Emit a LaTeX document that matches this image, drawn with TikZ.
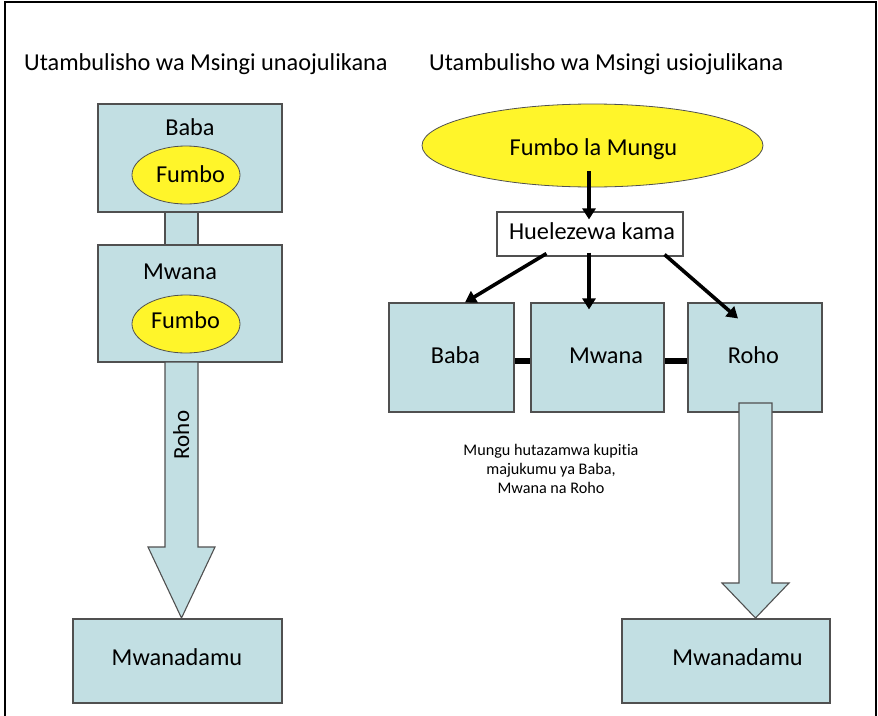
\documentclass[tikz,border=0pt]{standalone}
\usepackage{fontspec}
\setmainfont{Carlito}[Ligatures=NoCommon]
\usetikzlibrary{arrows.meta,shapes.geometric,calc}
\definecolor{boxblue}{HTML}{C2DFE3}
\definecolor{boxline}{HTML}{505050}
\definecolor{fyellow}{HTML}{FFF52A}
\begin{document}
\begin{tikzpicture}[x=1pt,y=-1pt,
  bluebox/.style={rectangle,draw=boxline,fill=boxblue,line width=1.1pt,inner sep=0pt},
  whitebox/.style={rectangle,draw=boxline,fill=white,line width=1.1pt,inner sep=0pt},
  yellowoval/.style={ellipse,draw=boxline,fill=fyellow,line width=0.8pt,inner sep=0pt},
  bigtxt/.style={font=\fontsize{24.3}{29}\selectfont,inner sep=0pt,anchor=base},
  smalltxt/.style={font=\fontsize{16.2}{19.5}\selectfont,inner sep=0pt,anchor=base},
  blockarrow/.style={draw=boxline,fill=boxblue,line width=1.1pt,line join=miter},
  thinarrow/.style={line width=3.6pt,-{Triangle[length=11pt,width=13pt]}},
  barline/.style={line width=6pt}
]
\useasboundingbox (0,0) rectangle (878,715);
\draw[line width=2pt] (5,2) rectangle (876,740);

% titles
\node[bigtxt,anchor=base west] (tleft) at (24,70) {Utambulisho wa Msingi unaojulikana};
\node[bigtxt,anchor=base west] (tright) at (429,70) {Utambulisho wa Msingi usiojulikana};

% ---------------- left column
\node[bluebox,minimum width=33pt,minimum height=33pt] (lneck) at (181.5,228.5) {};
\node[bluebox,minimum width=184pt,minimum height=108pt] (lbaba) at (190,158) {};
\node[bluebox,minimum width=184pt,minimum height=117pt] (lmwana) at (190,303.5) {};
\node[bigtxt] (lbabat) at (190,135) {Baba};
\node[yellowoval,minimum width=108pt,minimum height=58pt] (lf1) at (186,175) {};
\node[bigtxt] (lf1t) at (190.5,182) {Fumbo};
\node[bigtxt] (lmwanat) at (180,279) {Mwana};
\node[yellowoval,minimum width=108pt,minimum height=58pt] (lf2) at (186,324) {};
\node[bigtxt] (lf2t) at (185.5,328) {Fumbo};

\draw[blockarrow] (165,362) -- (198,362) -- (198,547) -- (215,547) -- (181.5,618)
  -- (148,547) -- (165,547) -- cycle;
\node[bigtxt,rotate=90,font=\fontsize{23}{28}\selectfont] (lroho) at (189,435) {Roho};

\node[bluebox,minimum width=209pt,minimum height=84pt] (lmd) at (177.5,661) {};
\node[bigtxt] (lmdt) at (177,665) {Mwanadamu};

% ---------------- right column
\node[yellowoval,minimum width=341pt,minimum height=83pt] (mungu) at (592.5,145.5) {};
\node[bigtxt] (mungut) at (593.5,155) {Fumbo la Mungu};
\node[whitebox,minimum width=186pt,minimum height=44pt] (huel) at (590,234) {};
\node[bigtxt] (huelt) at (592,239) {Huelezewa kama};

\node[bluebox,minimum width=125pt,minimum height=109pt] (rbaba) at (451.5,357.5) {};
\node[bluebox,minimum width=133pt,minimum height=109pt] (rmwana) at (597.5,357.5) {};
\node[bluebox,minimum width=134pt,minimum height=109pt] (rroho) at (755,357.5) {};
\node[bigtxt] (rbabat) at (455.5,363) {Baba};
\node[bigtxt] (rmwanat) at (606,363) {Mwana};
\node[bigtxt] (rrohot) at (753.5,363) {Roho};

\draw[barline] ([yshift=-3.5pt]rbaba.east) -- ([yshift=-3.5pt]rmwana.west);
\draw[barline] ([yshift=-3.5pt]rmwana.east) -- ([yshift=-3.5pt]rroho.west);

\draw[thinarrow] ($(mungu.south)+(-3.5,-16)$) -- ($(huel.north)+(-1,8)$);
\draw[thinarrow] ($(huel.south west)+(50,-3)$) -- ($(rbaba.north)+(13.5,0)$);
\draw[thinarrow] ($(huel.south)+(-1,-4)$) -- ($(rmwana.north)+(-8.5,7)$);
\draw[thinarrow] ($(huel.south east)+(-19,-2)$) -- ($(rroho.north)+(-17,16)$);

\draw[blockarrow] (739,403) -- (772,403) -- (772,583) -- (789,583) -- (755.5,618)
  -- (722,583) -- (739,583) -- cycle;

\node[bluebox,minimum width=208pt,minimum height=84pt] (rmd) at (726,661) {};
\node[bigtxt] (rmdt) at (737.5,665) {Mwanadamu};

\node[smalltxt] (note1) at (551,455) {Mungu hutazamwa kupitia};
\node[smalltxt] (note2) at (551,474.5) {majukumu ya Baba,};
\node[smalltxt] (note3) at (551,493) {Mwana na Roho};
\end{tikzpicture}
\end{document}
